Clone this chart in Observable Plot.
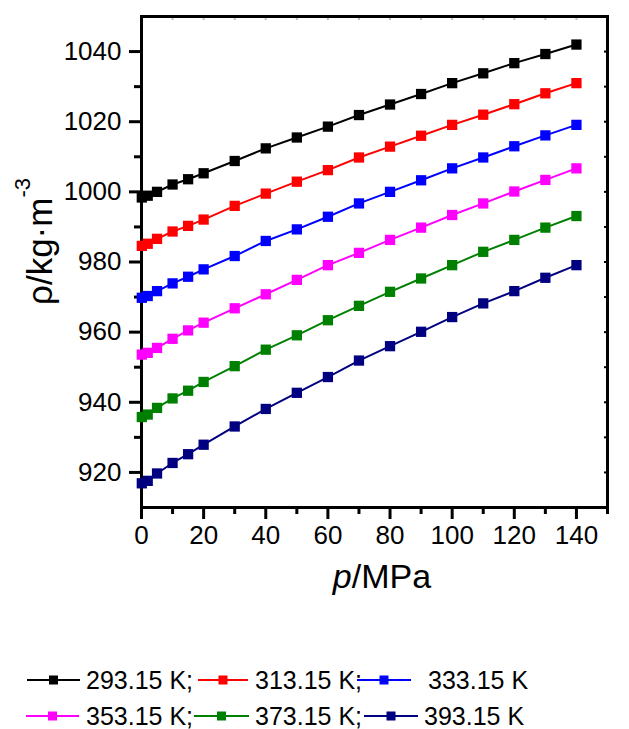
<!DOCTYPE html>
<html><head><meta charset="utf-8">
<script src="https://cdn.jsdelivr.net/npm/d3@7"></script>
<script src="https://cdn.jsdelivr.net/npm/@observablehq/plot@0.6"></script>
<style>
body{margin:0;background:#fff;font-family:"Liberation Sans",Arial,sans-serif}
#chart{width:629px}
svg{display:block}
</style>
</head><body><div id="chart"></div>
<script>
const pressure = [0.1, 2, 5, 10, 15, 20, 30, 40, 50, 60, 70, 80, 90, 100, 110, 120, 130, 140];
const seriesNames = ["293.15 K", "313.15 K", "333.15 K", "353.15 K", "373.15 K", "393.15 K"];
const legendLabels = ["293.15 K;", "313.15 K;", "333.15 K", "353.15 K;", "373.15 K;", "393.15 K"];
const seriesColors = ["#000000", "#ff0000", "#0000ff", "#ff00ff", "#008000", "#000080"];
const rho293 = [998.4, 998.9, 1000.0, 1002.1, 1003.6, 1005.3, 1008.8, 1012.4, 1015.5, 1018.6, 1021.9, 1024.9, 1027.9, 1031.0, 1033.8, 1036.7, 1039.3, 1042.0];
const rho313 = [984.6, 985.2, 986.6, 988.7, 990.3, 992.1, 996.0, 999.5, 1002.9, 1006.2, 1009.8, 1012.9, 1016.0, 1019.1, 1022.0, 1025.0, 1028.1, 1031.0];
const rho333 = [969.8, 970.3, 971.7, 973.9, 975.8, 977.9, 981.7, 986.0, 989.3, 992.9, 996.7, 1000.0, 1003.3, 1006.7, 1009.8, 1013.0, 1016.1, 1019.1];
const rho353 = [953.6, 954.1, 955.5, 958.1, 960.5, 962.7, 966.8, 970.8, 974.9, 979.1, 982.6, 986.3, 989.8, 993.4, 996.7, 1000.1, 1003.4, 1006.7];
const rho373 = [935.8, 936.5, 938.4, 941.1, 943.3, 945.8, 950.3, 955.0, 959.1, 963.4, 967.5, 971.5, 975.3, 979.1, 982.9, 986.3, 989.8, 993.1];
const rho393 = [916.9, 917.6, 919.7, 922.7, 925.2, 927.9, 933.1, 938.1, 942.7, 947.2, 951.9, 956.0, 960.1, 964.3, 968.2, 971.7, 975.5, 979.1];
const xMajorTicks = [0, 20, 40, 60, 80, 100, 120, 140];
const xMinorTicks = [10, 30, 50, 70, 90, 110, 130, 150];
const yMajorTicks = [920, 940, 960, 980, 1000, 1020, 1040];
const yMinorTicks = [930, 950, 970, 990, 1010, 1030];
const yAllTicks = [920, 930, 940, 950, 960, 970, 980, 990, 1000, 1010, 1020, 1030, 1040];
const xAllTicks = [10, 20, 30, 40, 50, 60, 70, 80, 90, 100, 110, 120, 130, 140];

const allRho = [rho293, rho313, rho333, rho353, rho373, rho393];
const data = [];
seriesNames.forEach((s, i) => pressure.forEach((p, j) => data.push({series: s, p, rho: allRho[i][j]})));

const chart = Plot.plot({
  width: 629, height: 610,
  marginLeft: 141, marginRight: 22, marginTop: 16, marginBottom: 103,
  style: {fontFamily: "'Liberation Sans', Arial, sans-serif", fontSize: "26px", color: "#000", background: "#fff", overflow: "visible"},
  x: {domain: [0, 150], label: null},
  y: {domain: [910, 1050], label: null},
  color: {domain: seriesNames, range: seriesColors},
  marks: [
    Plot.axisX({anchor: "top", ticks: xAllTicks, tickSize: 3, dy: 3, text: null, label: null, stroke: "#bbb", strokeWidth: 2}),
    Plot.axisY({anchor: "right", ticks: yAllTicks, tickSize: 4, dx: -4, text: null, label: null, strokeWidth: 2}),
    Plot.axisX({anchor: "bottom", ticks: xMajorTicks, tickSize: 12, tickPadding: 6, strokeWidth: 3, label: null, fontSize: 26, tickFormat: d => String(d)}),
    Plot.axisX({anchor: "bottom", ticks: xMinorTicks, tickSize: 7, text: null, strokeWidth: 3, label: null}),
    Plot.axisY({anchor: "left", ticks: yMajorTicks, tickSize: 12, tickPadding: 8, strokeWidth: 3, label: null, fontSize: 26, tickFormat: d => String(d)}),
    Plot.axisY({anchor: "left", ticks: yMinorTicks, tickSize: 7, text: null, strokeWidth: 3, label: null}),
    Plot.frame({stroke: "#000", strokeWidth: 3}),
    Plot.line(data, {x: "p", y: "rho", z: "series", stroke: "series", strokeWidth: 2}),
    Plot.dot(data, {x: "p", y: "rho", fill: "series", symbol: "square", r: 5.8})
  ]
});
document.getElementById("chart").appendChild(chart);

const svg = d3.select(chart);
const xl = svg.append("text").attr("x", 382).attr("y", 588).attr("text-anchor", "middle")
  .attr("font-size", 34).attr("fill", "#000");
xl.append("tspan").attr("font-style", "italic").text("p");
xl.append("tspan").text("/MPa");

const yl = svg.append("text").attr("transform", "translate(52,305) rotate(-90)")
  .attr("text-anchor", "start").attr("font-size", 35).attr("fill", "#000");
yl.append("tspan").text("ρ/kg·m");
yl.append("tspan").attr("font-size", 22).attr("dy", -22).text("-3");

// legend
const legendPos = [
  {x1: 27, x2: 80, tx: 86, row: 0},
  {x1: 198, x2: 248, tx: 255, row: 0},
  {x1: 357, x2: 411, tx: 428, row: 0},
  {x1: 26, x2: 79, tx: 86, row: 1},
  {x1: 194, x2: 249, tx: 255, row: 1},
  {x1: 364, x2: 418, tx: 424, row: 1}
];
const leg = d3.select("#chart").append("svg").attr("width", 629).attr("height", 119)
  .style("font-family", "'Liberation Sans', Arial, sans-serif");
const rowY = [70, 106];
seriesNames.forEach((s, i) => {
  const pos = legendPos[i], y = rowY[pos.row], c = seriesColors[i];
  leg.append("line").attr("x1", pos.x1).attr("x2", pos.x2).attr("y1", y).attr("y2", y)
    .attr("stroke", c).attr("stroke-width", 2);
  const cx = (pos.x1 + pos.x2) / 2;
  leg.append("rect").attr("x", cx - 4.5).attr("y", y - 4.5).attr("width", 9).attr("height", 9).attr("fill", c);
  leg.append("text").attr("x", pos.tx).attr("y", y + 9).attr("font-size", 25).attr("fill", "#000").text(legendLabels[i]);
});
</script>
</body></html>
